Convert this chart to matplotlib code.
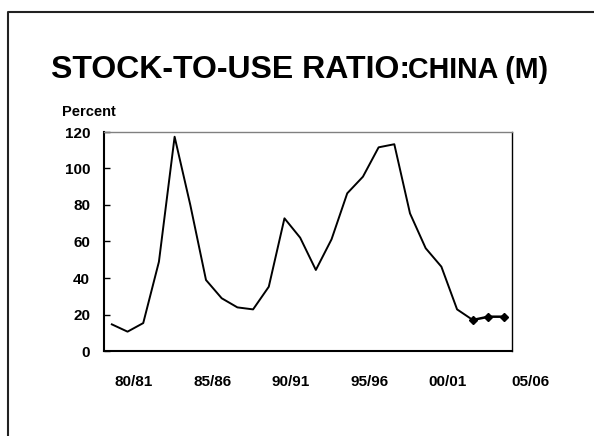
# Stock-to-use ratio, China (M)
import numpy as np
import matplotlib.pyplot as plt
from matplotlib.lines import Line2D

plt.rcParams['font.family'] = ['Liberation Sans', 'DejaVu Sans']
plt.rcParams['font.weight'] = 'bold'

# Data (percent), 80/81 .. 05/06
years = ["80/81", "81/82", "82/83", "83/84", "84/85", "85/86", "86/87", "87/88",
         "88/89", "89/90", "90/91", "91/92", "92/93", "93/94", "94/95", "95/96",
         "96/97", "97/98", "98/99", "99/00", "00/01", "01/02", "02/03", "03/04",
         "04/05", "05/06"]
ratio = [14.6, 10.6, 15.3, 48.9, 117.4, 80, 38.9, 28.9, 23.9, 22.8,
         35.2, 72.7, 62.1, 44.4, 61.2, 86.4, 95.5, 111.6, 113.3, 75.4,
         56.3, 46.2, 22.8, 17.0, 18.8, 18.8]
first_proj = 23  # last three years shown with markers

label_text = ["80/81", "85/86", "90/91", "95/96", "00/01", "05/06"]
label_pos = [1.4, 6.4, 11.4, 16.45, 21.4, 26.7]

x = np.arange(len(years))

fig = plt.figure(figsize=(5.94, 4.36), dpi=100)
ax = fig.add_axes([104/594, 1 - 351/436, 408/594, 219/436])

ax.plot(x[:first_proj + 1], ratio[:first_proj + 1], color="black", lw=1.4)
ax.plot(x[first_proj:], ratio[first_proj:], color="black", lw=1.8,
        marker="D", markersize=4)

ax.set_xlim(-0.5, len(years) - 0.5)
ax.set_ylim(0, 120)
ax.set_yticks(np.arange(0, 121, 20))
ax.set_xticks([])
ax.tick_params(axis="y", direction="in", length=4, width=1, pad=10,
               labelsize=11)
for lab in ax.get_yticklabels():
    lab.set_fontweight("bold")

ax.spines["left"].set_linewidth(1.5)
ax.spines["bottom"].set_linewidth(1.5)
ax.spines["right"].set_linewidth(1)
ax.spines["top"].set_linewidth(1)
ax.spines["top"].set_color("#808080")

for t, p in zip(label_text, label_pos):
    ax.text(p, -0.14, t, transform=ax.get_xaxis_transform(), ha="center",
            va="center", fontsize=11, fontweight="bold", clip_on=False)

# Title and unit label
fig.text(51/594, 1 - 78/436, "STOCK-TO-USE RATIO:", fontsize=23,
         fontweight="bold", ha="left", va="baseline")
fig.text(408/594, 1 - 78/436, "CHINA (M)", fontsize=20.6,
         fontweight="bold", ha="left", va="baseline")
fig.text(62/594, 1 - 112/436, "Percent", fontsize=10.5, fontweight="bold",
         ha="left", va="center")

# Slide frame (left and top edges)
fig.add_artist(Line2D([8/594, 8/594, 1.0], [0.0, 1 - 12/436, 1 - 12/436],
                      transform=fig.transFigure, color="#222222", lw=1.5))

fig.savefig("out.png", dpi=100)
